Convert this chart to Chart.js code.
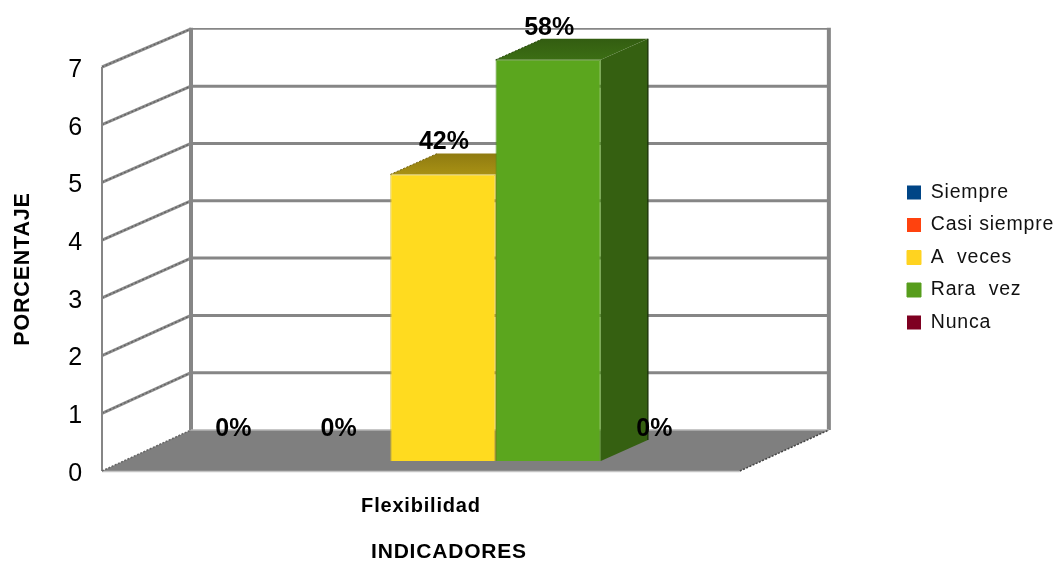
<!DOCTYPE html>
<html>
<head>
<meta charset="utf-8">
<title>Flexibilidad</title>
<script src="https://cdn.jsdelivr.net/npm/chart.js@4"></script>
<style>
    body { margin: 0; background: #fff; }
    canvas { display: block; }
</style>
</head>
<body>
<canvas id="myChart" width="1054" height="561"></canvas>
<script>
const categories = ["Flexibilidad"];
const seriesNames = ["Siempre", "Casi siempre", "A  veces", "Rara  vez", "Nunca"];
const seriesValues = [0, 0, 5, 7, 0];
const seriesColors = ["#004586", "#FF420E", "#FFD320", "#579D1C", "#7E0021"];
const barColors = ["#004586", "#FF420E", "#FFDB1F", "#5BA61E", "#7E0021"];
const yTicks = [0, 1, 2, 3, 4, 5, 6, 7];

const total = seriesValues.reduce((a, b) => a + b, 0);
const FONT = '"Liberation Sans", Arial, sans-serif';

// how far the back wall and the bars sit behind the front plane
const wall = { x: 89, y: -41 };
const barPlane = { x: 22, y: -10 };
const barDepth = { x: 47, y: -21 };

function shade(hex, f) {
    let n = parseInt(hex.slice(1), 16);
    let r = Math.round((n >> 16) * f);
    let g = Math.round(((n >> 8) & 255) * f);
    let b = Math.round((n & 255) * f);
    return "rgb(" + r + "," + g + "," + b + ")";
}

function poly(ctx, pts, fill) {
    ctx.beginPath();
    pts.forEach((p, i) => i ? ctx.lineTo(p[0], p[1]) : ctx.moveTo(p[0], p[1]));
    ctx.closePath();
    ctx.fillStyle = fill;
    ctx.fill();
}

function line(ctx, x1, y1, x2, y2, color, width, dash) {
    ctx.beginPath();
    ctx.setLineDash(dash || []);
    ctx.moveTo(x1, y1);
    ctx.lineTo(x2, y2);
    ctx.strokeStyle = color;
    ctx.lineWidth = width;
    ctx.stroke();
    ctx.setLineDash([]);
}

// walls, floor and grid of the box behind the bars
const box3d = {
    id: "box3d",
    beforeDraw(chart) {
        const ctx = chart.ctx;
        const a = chart.chartArea;
        const y = chart.scales.y;
        const d = chart.scales.yDepth;
        const backL = a.left + wall.x;
        const backR = a.right + wall.x;

        ctx.save();
        ctx.fillStyle = "#fff";
        ctx.fillRect(0, 0, chart.width, chart.height);

        yTicks.forEach(v => {
            let front = y.getPixelForValue(v);
            let back = d.getPixelForValue(v) + wall.y;
            if (v > 0) {
                line(ctx, a.left, front, backL, back, "#8c8c8c", 3);
                line(ctx, a.left, front, backL, back, "#5e5e5e", 1.2, [2, 2]);
                line(ctx, backL, back, backR, back, "#868686", v === 7 ? 1.6 : 3);
            }
        });
        line(ctx, a.left, y.getPixelForValue(7), a.left, y.getPixelForValue(0), "#868686", 2);
        line(ctx, backL, d.getPixelForValue(7) + wall.y - 1, backL, d.getPixelForValue(0) + wall.y, "#868686", 4);
        line(ctx, backR, d.getPixelForValue(7) + wall.y - 1, backR, d.getPixelForValue(0) + wall.y, "#868686", 4);

        const f0 = y.getPixelForValue(0);
        const b0 = d.getPixelForValue(0) + wall.y;
        poly(ctx, [[a.left, f0], [a.right, f0], [backR, b0], [backL, b0]], "#7f7f7f");
        line(ctx, backL, b0, backR, b0, "#b5b5b5", 1.5);
        line(ctx, a.left, f0 + 0.5, a.right, f0 + 0.5, "#c4c4c4", 1.5);
        line(ctx, a.left, f0, backL, b0, "#666", 1.5, [2, 1.5]);
        line(ctx, a.right, f0, backR, b0, "#444", 1.5, [2, 1.5]);
        ctx.restore();
    },
    beforeDatasetsDraw(chart) {
        const ctx = chart.ctx;
        ctx.save();
        ctx.translate(barPlane.x, barPlane.y);
        // top and side faces go under the native front faces
        chart.data.datasets.forEach((ds, i) => {
            if (!ds.data[0]) return;
            let bar = chart.getDatasetMeta(i).data[0];
            let l = bar.x - bar.width / 2;
            let r = bar.x + bar.width / 2;
            let dx = barDepth.x;
            let dy = barDepth.y;
            let topFill = ctx.createLinearGradient(0, bar.y + dy, 0, bar.y);
            topFill.addColorStop(0, shade(ds.backgroundColor, 0.56));
            topFill.addColorStop(1, shade(ds.backgroundColor, 0.66));
            poly(ctx, [[l, bar.y], [r, bar.y], [r + dx, bar.y + dy], [l + dx, bar.y + dy]], topFill);
            poly(ctx, [[r, bar.y], [r + dx, bar.y + dy], [r + dx, bar.base + dy], [r, bar.base]], shade(ds.backgroundColor, 0.58));
            line(ctx, r + dx, bar.y + dy, r + dx, bar.base + dy, shade(ds.backgroundColor, 0.35), 1.5);
            line(ctx, l, bar.y, l + dx, bar.y + dy, shade(ds.backgroundColor, 0.45), 1, [2, 1.5]);
        });
    },
    afterDatasetsDraw(chart) {
        const ctx = chart.ctx;
        ctx.letterSpacing = "0px";
        ctx.font = "bold 25px " + FONT;
        ctx.fillStyle = "#000";
        ctx.textAlign = "center";
        ctx.textBaseline = "middle";
        chart.data.datasets.forEach((ds, i) => {
            let bar = chart.getDatasetMeta(i).data[0];
            ctx.fillText(Math.round(ds.data[0] / total * 100) + "%", bar.x + 1, bar.y - 32);
        });
        ctx.restore();
    },
    afterDraw(chart) {
        const ctx = chart.ctx;
        const a = chart.chartArea;
        ctx.save();
        ctx.font = "bold 21px " + FONT;
        ctx.fillStyle = "#000";
        ctx.textAlign = "center";
        ctx.textBaseline = "middle";
        ctx.fillText("INDICADORES", (a.left + a.right) / 2 + 28, 552);
        ctx.restore();
    }
};

// native text is slightly tracked, legend is pulled away from the plot
const textAndLegend = {
    id: "textAndLegend",
    beforeUpdate(chart) { chart.ctx.letterSpacing = "0.8px"; },
    beforeDraw(chart) { chart.ctx.letterSpacing = "0.8px"; },
    afterLayout(chart) {
        const lg = chart.legend;
        lg.left = 894;
        lg.right = 1054;
        lg.top -= 56.5;
        lg.bottom -= 56.5;
    }
};

new Chart(document.getElementById("myChart"), {
    type: "bar",
    data: {
        labels: categories,
        datasets: seriesNames.map((name, i) => ({
            label: name,
            data: [seriesValues[i]],
            backgroundColor: barColors[i],
            borderColor: shade(barColors[i], 0.85),
            borderWidth: seriesValues[i] ? 1 : 0,
            yAxisID: "yDepth",
            clip: false
        }))
    },
    options: {
        responsive: false,
        animation: false,
        layout: { padding: { left: 10, top: 67, right: 144, bottom: 0 } },
        datasets: { bar: { categoryPercentage: 0.825, barPercentage: 1 } },
        plugins: {
            tooltip: { enabled: false },
            legend: {
                position: "right",
                labels: {
                    boxWidth: 14,
                    boxHeight: 14,
                    padding: 13,
                    color: "#111",
                    font: { family: FONT, size: 19.5 },
                    generateLabels(chart) {
                        let items = Chart.defaults.plugins.legend.labels.generateLabels(chart);
                        items.forEach((it, i) => {
                            it.fillStyle = seriesColors[i];
                            it.strokeStyle = seriesColors[i];
                        });
                        return items;
                    }
                }
            }
        },
        scales: {
            x: {
                grid: { display: false },
                border: { display: false },
                ticks: { padding: 15, color: "#000", font: { family: FONT, size: 20, weight: "bold" } },
                afterFit(s) { s.height = 90; }
            },
            y: {
                min: 0,
                max: 7,
                grid: { display: false },
                border: { display: false },
                afterBuildTicks(s) { s.ticks = yTicks.map(v => ({ value: v })); },
                ticks: { padding: 11, labelOffset: 3, color: "#000", font: { family: FONT, size: 25 } },
                title: {
                    display: true,
                    text: "PORCENTAJE",
                    color: "#000",
                    padding: 0,
                    font: { family: FONT, size: 21.5, weight: "bold" }
                },
                afterFit(s) { s.width = 92; }
            },
            // same zero as y, very slightly tighter: the plane the bars and back wall sit on
            yDepth: { display: false, min: 0, max: 7.05 }
        }
    },
    plugins: [box3d, textAndLegend]
});
</script>
</body>
</html>
